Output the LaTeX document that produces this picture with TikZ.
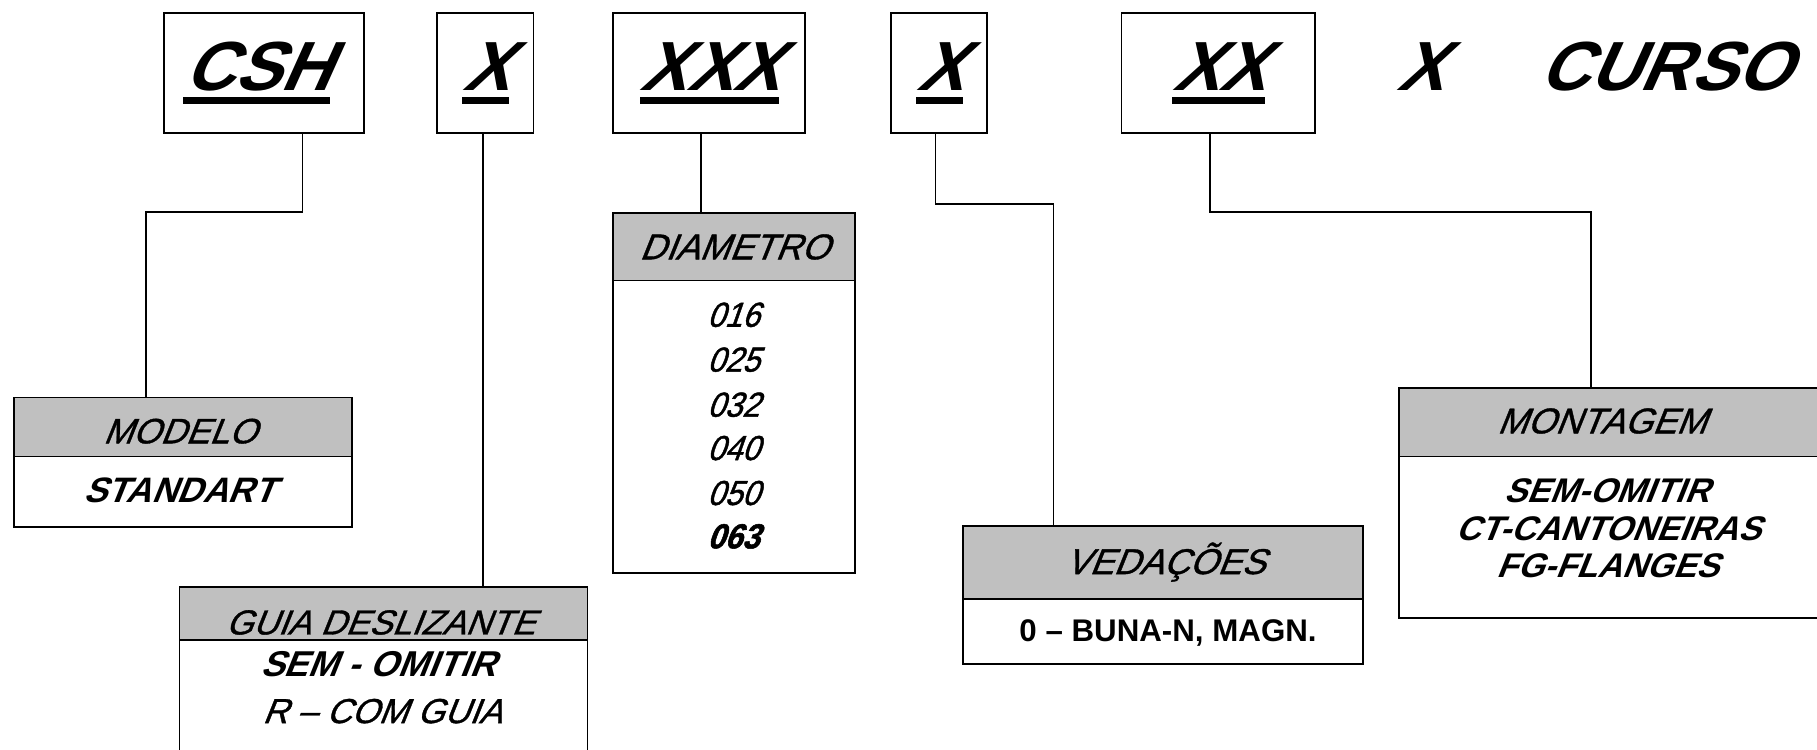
\documentclass[tikz,border=0pt]{standalone}
\usepackage{fontspec}
\setmainfont{Liberation Sans}
\newfontfamily\topfont[FakeSlant=0.45]{Liberation Sans Bold}
\newfontfamily\hdfont[FakeSlant=0.4,FakeBold=1]{Liberation Sans}
\newfontfamily\bdfont[FakeSlant=0.4]{Liberation Sans Bold}
\newfontfamily\numfont[FakeSlant=0.35,FakeStretch=0.9,FakeBold=1.2]{Liberation Sans}
\newfontfamily\heavyfont[FakeSlant=0.35,FakeStretch=0.9,FakeBold=1.5]{Liberation Sans Bold}
\definecolor{hdr}{RGB}{192,192,192}
\newcommand\fsz[1]{\fontsize{#1}{#1}\selectfont}
\newsavebox\ulbox
\newcommand\thul[1]{\sbox\ulbox{#1}\rlap{\rule[-12pt]{\wd\ulbox}{6.2pt}}\usebox\ulbox}
\begin{document}
\begin{tikzpicture}[x=1pt,y=-1pt,
  box/.style={draw, line width=1.5pt, inner sep=0pt},
  topbox/.style={box, minimum height=104pt},
  headbox/.style={box, fill=hdr},
  bodybox/.style={box, fill=white},
  txt/.style={anchor=base, inner sep=0pt},
  toptxt/.style={txt, font=\fsz{60}\topfont},
  headtxt/.style={txt, font=\fsz{31}\hdfont},
  bodytxt/.style={txt, font=\fsz{30.5}\bdfont},
  numtxt/.style={txt, font=\fsz{30}\numfont},
  conn/.style={line width=1.3pt},
]
\useasboundingbox (0,0) rectangle (1568,647);
\fill[white] (0,0) rectangle (1568,647);
\clip (0,0) rectangle (1568,647);

% top code boxes
\node[topbox, minimum width=172.5pt] (csh) at (227.75,63) {};
\node[topbox, minimum width=83pt]  (x1)  at (418.8,63) {};
\node[topbox, minimum width=165.5pt] (xxx) at (612,63) {};
\node[topbox, minimum width=83pt]  (x2)  at (810.5,63) {};
\node[topbox, minimum width=167pt] (xx)  at (1051.4,63) {};

\node[toptxt] (cshT) at (221.5,77.7) {\thul{CSH}};
\node[toptxt] (x1T)  at (418.9,77.7) {\thul{X}};
\node[toptxt] (xxxT) at (612,77.7) {\thul{XXX}};
\node[toptxt] (x2T)  at (810.6,77.7) {\thul{X}};
\node[toptxt] (xxT)  at (1051.4,77.7) {\thul{XX}};
\node[toptxt] (x3T)  at (1225.5,77.7) {X};
\node[toptxt] (curso) at (1436,77.7) {CURSO};

% MODELO
\node[headbox, minimum width=292pt, minimum height=51pt] (modelo) at (158,368.5) {};
\node[bodybox, minimum width=292pt, minimum height=61pt] (modeloB) at (158,424.5) {};
\node[headtxt, font=\fsz{30.5}\hdfont] (modeloT) at (155,382.6) {MODELO};
\node[bodytxt] (std) at (154.5,434) {STANDART};

% GUIA DESLIZANTE
\node[headbox, minimum width=352pt, minimum height=45.5pt] (guia) at (331,529.5) {};
\node[bodybox, minimum width=352pt, minimum height=148pt] (guiaB) at (331,626.3) {};
\node[headtxt, font=\fsz{30}\hdfont] (guiaT) at (328,547.5) {GUIA DESLIZANTE};
\node[bodytxt, font=\fsz{31}\bdfont] (g1) at (326,584) {SEM - OMITIR};
\node[headtxt, font=\fsz{30}\hdfont] (g2) at (329.7,624) {R – COM GUIA};

% DIAMETRO
\node[headbox, minimum width=209pt, minimum height=58.5pt] (diam) at (633.5,212.75) {};
\node[bodybox, minimum width=209pt, minimum height=252.6pt] (diamB) at (633.5,368.3) {};
\node[headtxt] (diamT) at (633.5,223.8) {DIAMETRO};
\node[numtxt] (n1) at (632.7,282) {016};
\node[numtxt] (n2) at (632.7,320.7) {025};
\node[numtxt] (n3) at (632.7,359.6) {032};
\node[numtxt] (n4) at (632.7,397) {040};
\node[numtxt] (n5) at (632.7,435.8) {050};
\node[txt, font=\fsz{30}\heavyfont] (n6) at (632.7,473.2) {063};

% VEDACOES
\node[headbox, minimum width=345.5pt, minimum height=63pt] (ved) at (1003.75,485.5) {};
\node[bodybox, minimum width=345.5pt, minimum height=56pt] (vedB) at (1003.75,545) {};
\node[headtxt] (vedT) at (1005.5,495.4) {VEDAÇÕES};
\node[txt, font=\fsz{27}\bfseries] (vedL) at (1008,553.7) {0 – BUNA-N, MAGN.};

% MONTAGEM
\node[headbox, minimum width=370pt, minimum height=59pt] (mont) at (1392,364.5) {};
\node[bodybox, minimum width=370pt, minimum height=139.5pt] (montB) at (1392,463.75) {};
\node[headtxt] (montT) at (1382,374) {MONTAGEM};
\node[bodytxt, font=\fsz{29.5}\bdfont] (m1) at (1386,434) {SEM-OMITIR};
\node[bodytxt, font=\fsz{29.5}\bdfont] (m2) at (1387.5,466) {CT-CANTONEIRAS};
\node[bodytxt, font=\fsz{29.5}\bdfont] (m3) at (1387,498) {FG-FLANGES};

% connectors
\coordinate (e1) at (126,183);
\coordinate (e2) at (909,176);
\coordinate (e3) at (1373,183);
\draw[conn] ([xshift=33.25pt]csh.south) |- (e1) -- (e1 |- modelo.north);
\draw[conn] ([xshift=-1.8pt]x1.south) -- ([xshift=-1.8pt]x1.south |- guia.north);
\draw[conn] ([xshift=-7pt]xxx.south) -- ([xshift=-7pt]xxx.south |- diam.north);
\draw[conn] ([xshift=-3pt]x2.south) |- (e2) -- (e2 |- ved.north);
\draw[conn] ([xshift=-7.4pt]xx.south) |- (e3) -- (e3 |- mont.north);
\end{tikzpicture}
\end{document}
